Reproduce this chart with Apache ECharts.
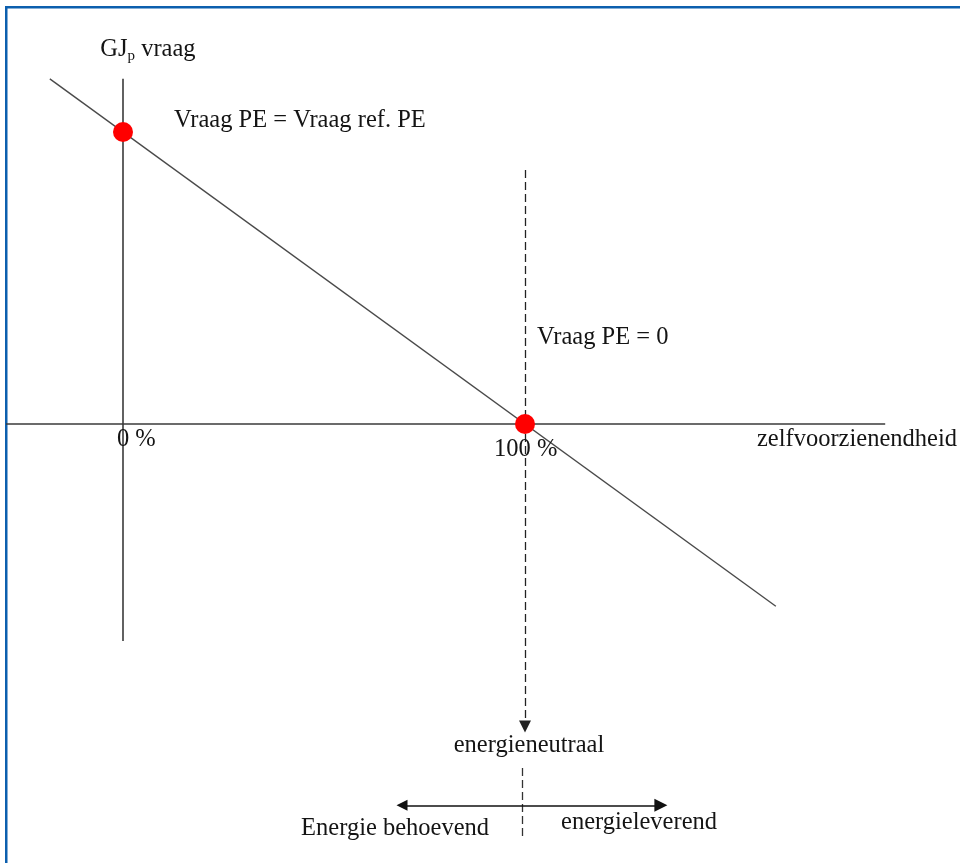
<!DOCTYPE html>
<html>
<head>
<meta charset="utf-8">
<script src="https://cdn.jsdelivr.net/npm/echarts@6/dist/echarts.min.js"></script>
<style>html,body{margin:0;padding:0;background:#fff}#c{width:960px;height:863px}</style>
</head>
<body>
<div id="c"></div>
<script>
// Data (x: zelfvoorzienendheid %, y: GJp vraag, ref = 100)
var demandLine = [[-18.2, 118.2], [162.4, -62.4]];
var keyPoints = [[0, 100], [100, 0]];
var xAxisLine = [[-29.1, 0], [189.6, 0]];
var yAxisLine = [[0, 118.2], [0, -74.3]];
var neutralArrow = [[100, 87], [100, -103.6]];
var neutralTail = [[99.4, -117.8], [99.4, -141.8]];
var rangeArrow = [[69.4, -130.6], [133.8, -130.6]];
var labelTexts = ['Vraag PE = Vraag ref. PE', 'Vraag PE = 0', '0 %', '100 %', 'zelfvoorzienendheid', 'Energie behoevend', 'energieleverend'];
var labelCoords = [[12.7, 103.8], [103, 29.5], [-1.5, -5.5], [92.3, -8.6], [157.7, -5.5], [44.3, -138.7], [108.96, -136.6]];
var centerTexts = ['energieneutraal'];
var centerCoords = [[101, -110]];
var yTitleCoord = [6.2, 128.8];

var FONT = 'Liberation Serif';
var FS = 24.5;
var TXT = '#141414';
var chart = echarts.init(document.getElementById('c'));
var lineColor = '#3a3a3a';
function labelSeries(texts, coords, align) {
  return {type: 'scatter', symbolSize: 0, silent: true, z: 6,
    itemStyle: {opacity: 1},
    data: texts.map(function (t, i) { return {value: coords[i], name: t}; }),
    label: {show: true, position: [0, 0], align: align, verticalAlign: 'middle', formatter: '{b}',
      fontFamily: FONT, fontSize: FS, color: TXT, opacity: 1}};
}
chart.setOption({
  animation: false,
  backgroundColor: '#fff',
  grid: {left: 2.4, top: 0.6, width: 924.6, height: 861.4},
  xAxis: {type: 'value', min: -30, max: 200, show: false},
  yAxis: {type: 'value', min: -150, max: 145, show: false},
  graphic: [
    {type: 'rect', shape: {x: 5, y: 6, width: 2.5, height: 857}, style: {fill: '#0c5fae'}},
    {type: 'rect', shape: {x: 5, y: 6, width: 955, height: 2.5}, style: {fill: '#0c5fae'}}
  ],
  series: [
    {type: 'line', data: xAxisLine, symbol: 'none', lineStyle: {color: lineColor, width: 1.6}},
    {type: 'line', data: yAxisLine, symbol: 'none', lineStyle: {color: lineColor, width: 1.6}},
    {type: 'line', data: demandLine, symbol: 'none', lineStyle: {color: '#4a4a4a', width: 1.4}},
    {type: 'lines', coordinateSystem: 'cartesian2d', symbol: ['none', 'triangle'], symbolSize: [11, 12],
      lineStyle: {color: '#222', width: 1.3, type: [8, 4], opacity: 1},
      data: [{coords: neutralArrow}]},
    {type: 'lines', coordinateSystem: 'cartesian2d', symbol: ['none', 'none'],
      lineStyle: {color: '#333', width: 1.3, type: [8, 4], opacity: 1},
      data: [{coords: neutralTail}]},
    {type: 'lines', coordinateSystem: 'cartesian2d', symbol: ['triangle', 'triangle'], symbolSize: [11, 13],
      lineStyle: {color: '#111', width: 1.6, opacity: 1},
      data: [{coords: rangeArrow}]},
    {type: 'scatter', data: keyPoints, symbol: 'circle', symbolSize: 20, itemStyle: {color: '#ff0000', opacity: 1}, z: 5},
    labelSeries(labelTexts, labelCoords, 'left'),
    labelSeries(centerTexts, centerCoords, 'center'),
    {type: 'scatter', symbolSize: 0, silent: true, z: 6, itemStyle: {opacity: 1},
      data: [{value: yTitleCoord, name: 'GJp vraag'}],
      label: {show: true, position: [0, 0], align: 'center', verticalAlign: 'middle', opacity: 1,
        formatter: '{a|GJ}{s|p}{a| vraag}',
        rich: {
          a: {fontFamily: FONT, fontSize: FS, color: TXT, lineHeight: 28, verticalAlign: 'bottom'},
          s: {fontFamily: FONT, fontSize: 15, color: TXT, lineHeight: 22, verticalAlign: 'bottom', padding: [0, 0, -2, 0]}
        }}}
  ]
});
</script>
</body>
</html>
